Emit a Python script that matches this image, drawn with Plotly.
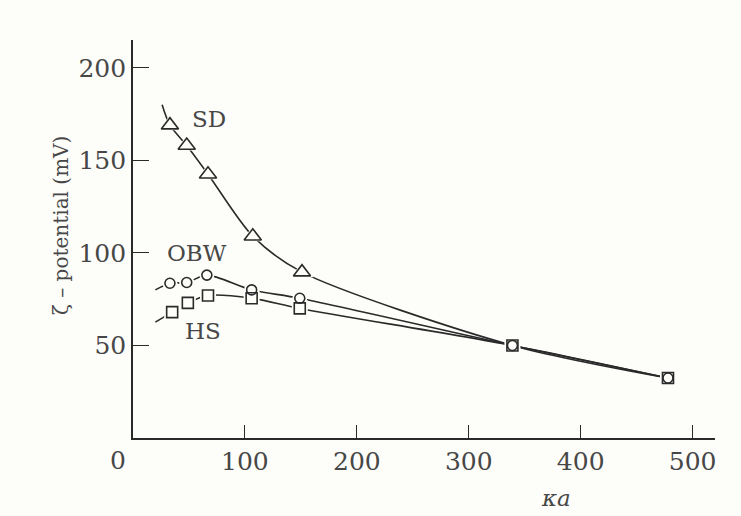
import plotly.graph_objects as go

# data (curve start point + markers)
sd_x = [26, 33, 48, 67, 107, 151, 339, 478]
sd_y = [180, 169, 158, 142.5, 109, 89.6, 50, 32.4]
sd_marker = [False, True, True, True, True, True, False, False]

obw_x = [20, 33, 48, 66, 106, 149, 339, 478]
obw_y = [80, 83.6, 84, 88, 80, 75.5, 50, 32.4]
obw_marker = [False, True, True, True, True, True, True, True]

hs_x = [20, 35, 49, 67, 106, 149, 339, 478]
hs_y = [62.6, 68, 73, 77, 75.5, 70, 50, 32.4]
hs_marker = [False, True, True, True, True, True, True, True]

x_ticks = [100, 200, 300, 400, 500]
y_ticks = [50, 100, 150, 200]

BG = "#fdfdfa"
INK = "#2a2a2a"
LBL = "#474747"
FONT = "DejaVu Serif"

fig = go.Figure()

series = [
    (sd_x, sd_y, sd_marker, "triangle-up-open", 15, "SD"),
    (obw_x, obw_y, obw_marker, "circle-open", 10, "OBW"),
    (hs_x, hs_y, hs_marker, "square-open", 11, "HS"),
]

for xs, ys, mk, sym, sz, name in series:
    fig.add_trace(go.Scatter(
        x=xs, y=ys, mode="lines",
        line=dict(color=INK, width=1.6, shape="spline", smoothing=0.8),
        showlegend=False, hoverinfo="skip"))

# halos around markers to create gaps in the lines
for xs, ys, mk, sym, sz, name in series:
    mx = [x for x, m in zip(xs, mk) if m]
    my = [y for y, m in zip(ys, mk) if m]
    fig.add_trace(go.Scatter(
        x=mx, y=my, mode="markers",
        marker=dict(symbol=sym.replace("-open", ""), size=sz + 5, color=BG,
                    line=dict(width=0)),
        showlegend=False, hoverinfo="skip"))

for xs, ys, mk, sym, sz, name in series:
    mx = [x for x, m in zip(xs, mk) if m]
    my = [y for y, m in zip(ys, mk) if m]
    fig.add_trace(go.Scatter(
        x=mx, y=my, mode="markers", name=name,
        marker=dict(symbol=sym, size=sz, color=INK, line=dict(width=1.6)),
        showlegend=False))

labels = [("SD", 68, 172.5), ("OBW", 57, 99.8), ("HS", 62.5, 58)]
for txt, lx, ly in labels:
    fig.add_annotation(x=lx, y=ly, text=txt, showarrow=False,
                       font=dict(family=FONT, size=23, color=LBL))

fig.add_annotation(xref="paper", yref="paper", x=-0.148, y=0.535,
                   text="ζ – potential (mV)", textangle=-90, showarrow=False,
                   font=dict(family=FONT, size=20, color=LBL))
fig.add_annotation(xref="x", yref="paper", x=378, y=-0.15,
                   text="<i>κa</i>", showarrow=False, yanchor="middle",
                   font=dict(family=FONT, size=23, color=LBL))

fig.update_xaxes(range=[0, 520], tickvals=x_ticks, ticks="inside", ticklen=13,
                 tickwidth=1.4, tickcolor=INK, showline=True, linecolor=INK,
                 linewidth=1.6, showgrid=False, zeroline=False,
                 tickfont=dict(family=FONT, size=25, color=LBL))
fig.update_yaxes(range=[0, 215], tickvals=y_ticks, ticks="inside", ticklen=16,
                 tickwidth=1.4, tickcolor=INK, showline=True, linecolor=INK,
                 linewidth=1.6, showgrid=False, zeroline=False,
                 tickfont=dict(family=FONT, size=25, color=LBL))

fig.add_annotation(xref="paper", yref="paper", x=-0.008, y=-0.015, text="0",
                   showarrow=False, xanchor="right", yanchor="top",
                   font=dict(family=FONT, size=25, color=LBL))

fig.update_layout(width=741, height=516, paper_bgcolor=BG, plot_bgcolor=BG,
                  margin=dict(l=133, r=26, t=40, b=78))

fig.write_html("out.html")
